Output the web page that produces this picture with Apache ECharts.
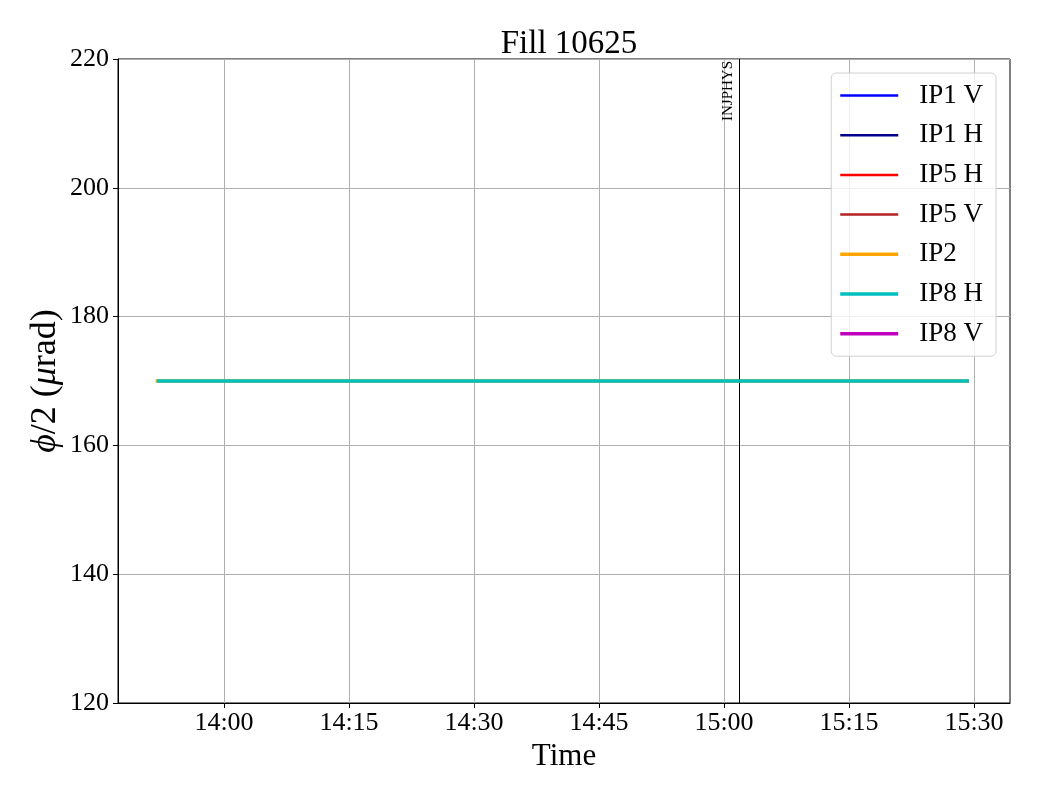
<!DOCTYPE html>
<html><head><meta charset="utf-8">
<script src="https://cdn.jsdelivr.net/npm/echarts@6/dist/echarts.min.js"></script>
<style>html,body{margin:0;padding:0;background:#fff}#c{width:1040px;height:800px}</style>
</head><body><div id="c"></div>
<script>
// time values in minutes since midnight
const xTicks = [840, 855, 870, 885, 900, 915, 930];
const xMin = 827.28, xMax = 934.32;
const seriesNames = ['IP1 V', 'IP1 H', 'IP5 H', 'IP5 V', 'IP2', 'IP8 H', 'IP8 V'];
const seriesColors = ['#0000ff', '#00008b', '#ff0000', '#b22222', '#ffa500', '#00bfbf', '#bf00bf'];
const seriesWidths = [2.5, 2.5, 2.5, 2.5, 3.5, 3.5, 3.5];
const ip2Times = [831.8, 929.4];
const ip2Values = [170, 170];
const ip8hTimes = [831.97, 929.4];
const ip8hValues = [170, 170];
const injphysTime = 901.8;

function fmt(v){const h=Math.floor(v/60), m=Math.round(v-h*60);return h+':'+(m<10?'0':'')+m;}
const dataMap = {'IP2': ip2Times.map((t,i)=>[t, ip2Values[i]]), 'IP8 H': ip8hTimes.map((t,i)=>[t, ip8hValues[i]])};
const font = 'Liberation Serif';
const series = seriesNames.map((n,i)=>({
  name:n, type:'line', data: dataMap[n] || [], symbol:'none', showSymbol:false,
  color: seriesColors[i], lineStyle:{width:seriesWidths[i], color:seriesColors[i]},
  z: n==='IP8 H' ? 10 : 3, animation:false
}));
series.push({type:'line', data:[], markLine:{symbol:'none', silent:true, animation:false,
  lineStyle:{color:'#000', width:1, type:'solid'},
  label:{show:true, formatter:'INJPHYS', position:'insideEndTop', fontFamily:font, fontSize:15, color:'#000', distance:[2,3]},
  data:[{xAxis: injphysTime}]}});
const legendData = seriesNames.map((n,i)=>({name:n,
  icon: seriesWidths[i] > 3 ? 'path://M0,0L58,0L58,3.5L0,3.5Z' : 'path://M0,0L58,0L58,2.5L0,2.5Z',
  itemStyle:{color:seriesColors[i]}}));
const chart = echarts.init(document.getElementById('c'));
chart.setOption({
  animation:false,
  title:{text:'Fill 10625', left:564, textAlign:'center', top:23, textStyle:{fontFamily:font, fontSize:33, fontWeight:'normal', color:'#000'}},
  grid:{left:118, right:30, top:59, bottom:97, show:true, borderColor:'#000', borderWidth:1, containLabel:false},
  legend:{orient:'vertical', right:44, top:73, itemWidth:58, itemHeight:14, itemGap:12.7, padding:[9,13,9,9],
    borderColor:'#d0d0d0', borderWidth:1, borderRadius:5, backgroundColor:'rgba(255,255,255,0.8)',
    textStyle:{fontFamily:font, fontSize:27, color:'#000', padding:[0,0,0,16]}, data:legendData},
  xAxis:{type:'value', min:xMin, max:xMax, name:'Time', nameLocation:'middle', nameGap:34,
    nameTextStyle:{fontFamily:font, fontSize:31, color:'#000'},
    axisLine:{show:true, lineStyle:{color:'#000'}},
    axisTick:{show:true, inside:false, length:5, lineStyle:{color:'#000'}, customValues:xTicks},
    axisLabel:{fontFamily:font, fontSize:26, color:'#000', margin:7, customValues:xTicks, formatter:fmt},
    splitLine:{show:true, lineStyle:{color:'#b0b0b0', width:1}}},
  yAxis:{type:'value', min:120, max:220, interval:20, name:'{i|ϕ}/2 ({i|μ}rad)', nameLocation:'middle', nameGap:54,
    nameMoveOverlap:false,
    nameTextStyle:{fontFamily:font, fontSize:36, color:'#000', rich:{i:{fontFamily:font, fontStyle:'italic', fontSize:36}}},
    axisLine:{show:true, lineStyle:{color:'#000'}},
    axisTick:{show:true, inside:false, length:5, lineStyle:{color:'#000'}},
    axisLabel:{fontFamily:font, fontSize:26, color:'#000', margin:9},
    splitLine:{show:true, lineStyle:{color:'#b0b0b0', width:1}}},
  series: series
});
</script></body></html>
